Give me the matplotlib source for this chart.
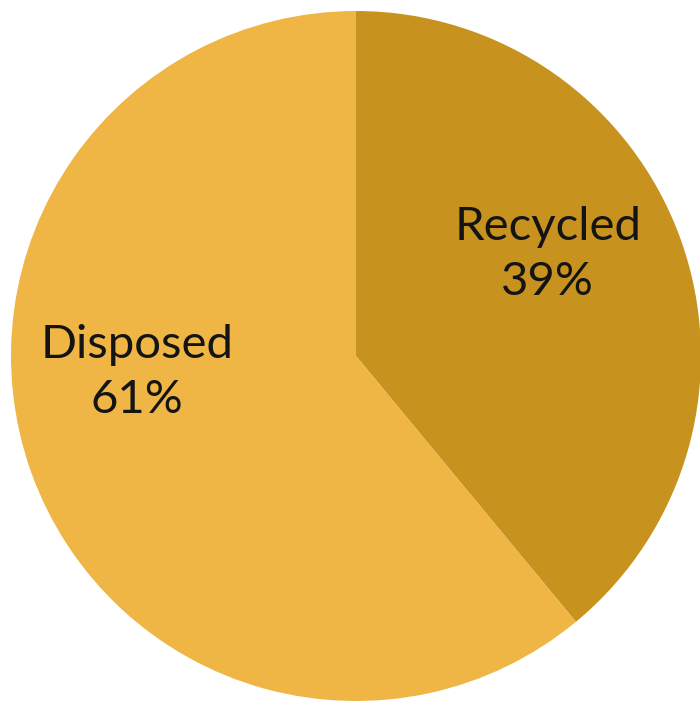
import matplotlib
matplotlib.use("Agg")
import matplotlib.pyplot as plt

categories = ["Recycled", "Disposed"]
shares = [39, 61]
slice_colors = ["#C8921F", "#EFB645"]

fig = plt.figure(figsize=(7.0, 7.04), dpi=100)
# pie centre at (356, 356) px, radius 345 px
ax = fig.add_axes([11 / 700, 3 / 704, 690 / 700, 690 / 704])

wedges, _ = ax.pie(shares, colors=slice_colors, startangle=90, counterclock=False,
                   radius=1, wedgeprops=dict(linewidth=0))
for w in wedges:
    w.set_clip_on(False)
ax.set_xlim(-1, 1)
ax.set_ylim(-1, 1)
ax.set_aspect("equal")
ax.axis("off")

# baselines of the two label lines, in data units
label_pos = {"Recycled": (0.556, 0.336, 0.177), "Disposed": (-0.635, -0.006, -0.165)}
for name, val in zip(categories, shares):
    x, y1, y2 = label_pos[name]
    ax.text(x, y1, name, ha="center", va="baseline", fontsize=34,
            family="Lato", color="#141414")
    ax.text(x, y2, f"{val}%", ha="center", va="baseline", fontsize=34,
            family="Lato", color="#141414")

fig.savefig("out.png", dpi=100)
